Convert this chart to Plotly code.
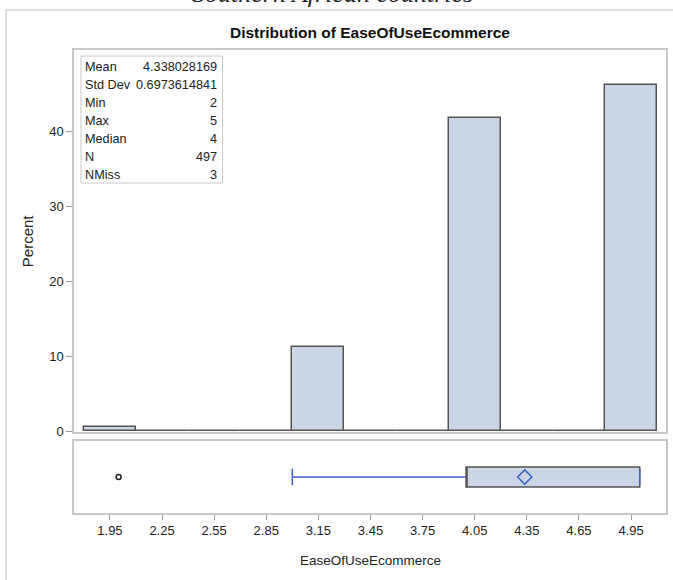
import plotly.graph_objects as go

# ---------------- data ----------------
bin_centers = [1.95, 2.25, 2.55, 2.85, 3.15, 3.45, 3.75, 4.05, 4.35, 4.65, 4.95]
tick_labels = ["1.95", "2.25", "2.55", "2.85", "3.15", "3.45", "3.75", "4.05", "4.35", "4.65", "4.95"]
percent = [0.60, 0, 0, 0, 11.27, 0, 0, 41.85, 0, 0, 46.28]
bin_width = 0.3

stat_labels = ["Mean", "Std Dev", "Min", "Max", "Median", "N", "NMiss"]
stat_values = ["4.338028169", "0.6973614841", "2", "5", "4", "497", "3"]

box_q1 = 4
box_median = 4
box_q3 = 5
whisker_low = 3
whisker_high = 5
outliers = [2]
mean_value = 4.338028169

y_ticks = [0, 10, 20, 30, 40]

# ---------------- geometry helpers (pixel -> paper) ----------------
W, H = 673, 580
ML, MR, MT, MB = 74, 5, 50, 67
PW = W - ML - MR
PH = H - MT - MB


def xp(px):
    return (px - ML) / PW


def yp(py):
    return (H - MB - py) / PH


FONT = "Liberation Sans, Arial, sans-serif"
FILL = "#cad5e6"
EDGE = "#545454"
FRAME = "#c8c8c8"
BLUE = "#3f63c4"
TXT = "#222222"

fig = go.Figure()

# histogram
fig.add_trace(go.Bar(
    x=bin_centers, y=percent, width=bin_width,
    marker=dict(color=FILL, line=dict(color=EDGE, width=1.5)),
    xaxis="x", yaxis="y", showlegend=False, hoverinfo="x+y",
))

# box (no whiskers, drawn separately in blue)
fig.add_trace(go.Box(
    q1=[box_q1], median=[box_median], q3=[box_q3],
    lowerfence=[box_q1], upperfence=[box_q3],
    y=[0], orientation="h", width=0.56,
    fillcolor=FILL, line=dict(color=EDGE, width=1.5),
    boxpoints=False, xaxis="x2", yaxis="y2", showlegend=False,
))

# whiskers
fig.add_trace(go.Scatter(
    x=[whisker_low, box_q1], y=[0, 0], mode="lines",
    line=dict(color=BLUE, width=1.5), xaxis="x2", yaxis="y2",
    showlegend=False, hoverinfo="skip",
))
fig.add_trace(go.Scatter(
    x=[box_q3, whisker_high], y=[0, 0], mode="lines",
    line=dict(color=BLUE, width=1.5), xaxis="x2", yaxis="y2",
    showlegend=False, hoverinfo="skip",
))
fig.add_trace(go.Scatter(
    x=[whisker_low, whisker_high], y=[0, 0], mode="markers",
    marker=dict(symbol="line-ns", size=12, line=dict(color=BLUE, width=1.5)),
    xaxis="x2", yaxis="y2", showlegend=False, hoverinfo="skip",
))

# outliers
fig.add_trace(go.Scatter(
    x=outliers, y=[0] * len(outliers), mode="markers",
    marker=dict(symbol="circle-open", size=5, color="#222222", line=dict(width=1.5)),
    xaxis="x2", yaxis="y2", showlegend=False,
))

# mean
fig.add_trace(go.Scatter(
    x=[mean_value], y=[0], mode="markers",
    marker=dict(symbol="diamond-open", size=11, color=BLUE, line=dict(width=1.5)),
    xaxis="x2", yaxis="y2", showlegend=False,
))

# x range derived from tick pixel positions
x_lo = 1.95 - (110 - 74) / 174.0
x_hi = 4.95 + (668 - 633) / 174.0

hist_bottom = yp(432)
box_top = yp(441)

common_x = dict(range=[x_lo, x_hi], showgrid=False, zeroline=False,
                showline=True, mirror=True, linecolor=FRAME, linewidth=1.5)

fig.update_layout(
    width=W, height=H,
    margin=dict(l=ML, r=MR, t=MT, b=MB),
    paper_bgcolor="white", plot_bgcolor="white",
    font=dict(family=FONT, size=13, color=TXT),
    showlegend=False,
    bargap=0,
    xaxis=dict(common_x, domain=[0, 1], anchor="y", showticklabels=False, ticks=""),
    yaxis=dict(domain=[hist_bottom, 1], anchor="x", range=[-0.13, 50.9],
               tickvals=y_ticks, ticks="outside", ticklen=6, tickcolor="#9a9a9a",
               tickwidth=1, showgrid=False, zeroline=False,
               showline=True, mirror=True, linecolor=FRAME, linewidth=1.5,
               tickfont=dict(size=13, color=TXT)),
    xaxis2=dict(common_x, domain=[0, 1], anchor="y2",
                tickvals=bin_centers, ticktext=tick_labels,
                ticks="outside", ticklen=5, tickcolor="#9a9a9a", tickwidth=1,
                tickfont=dict(size=13, color=TXT)),
    yaxis2=dict(domain=[0, box_top], anchor="x2", range=[-1, 1],
                showticklabels=False, ticks="", showgrid=False, zeroline=False,
                showline=True, mirror=True, linecolor=FRAME, linewidth=1.5),
)

shapes = []
# outer frame
shapes.append(dict(type="rect", xref="paper", yref="paper",
                   x0=xp(6), x1=xp(700), y0=yp(620), y1=yp(10),
                   line=dict(color="#d4d4d4", width=1.5), fillcolor="rgba(0,0,0,0)",
                   layer="below"))
# stats inset box
shapes.append(dict(type="rect", xref="paper", yref="paper",
                   x0=xp(81), x1=xp(223), y0=yp(183), y1=yp(56),
                   line=dict(color=FRAME, width=1), fillcolor="rgba(0,0,0,0)"))

annotations = []
for i, (lab, val) in enumerate(zip(stat_labels, stat_values)):
    cy = 67 + 18 * i
    annotations.append(dict(xref="paper", yref="paper", x=xp(83), y=yp(cy),
                            xanchor="left", yanchor="middle", text=lab, showarrow=False,
                            font=dict(size=12.7, color=TXT, family=FONT)))
    annotations.append(dict(xref="paper", yref="paper", x=xp(219), y=yp(cy),
                            xanchor="right", yanchor="middle", text=val, showarrow=False,
                            font=dict(size=12.7, color=TXT, family=FONT)))

# chart title
annotations.append(dict(xref="paper", yref="paper", x=xp(371), y=yp(33),
                        xanchor="center", yanchor="middle",
                        text="<b>Distribution of EaseOfUseEcommerce</b>", showarrow=False,
                        font=dict(size=15.5, color="#111111", family=FONT)))
# partially visible caption at the very top
annotations.append(dict(xref="paper", yref="paper", x=xp(333), y=yp(9.5),
                        xanchor="center", yanchor="bottom",
                        text="<i>Southern African countries</i>", showarrow=False,
                        font=dict(size=26, color="#222222",
                                  family="Liberation Serif, Times New Roman, serif")))
# axis titles
annotations.append(dict(xref="paper", yref="paper", x=xp(27), y=yp(241),
                        xanchor="center", yanchor="middle", textangle=-90,
                        text="Percent", showarrow=False,
                        font=dict(size=15, color=TXT, family=FONT)))
annotations.append(dict(xref="paper", yref="paper", x=xp(371), y=yp(560),
                        xanchor="center", yanchor="middle",
                        text="EaseOfUseEcommerce", showarrow=False,
                        font=dict(size=13.5, color=TXT, family=FONT)))

fig.update_layout(shapes=shapes, annotations=annotations)

fig.write_html("out.html")
